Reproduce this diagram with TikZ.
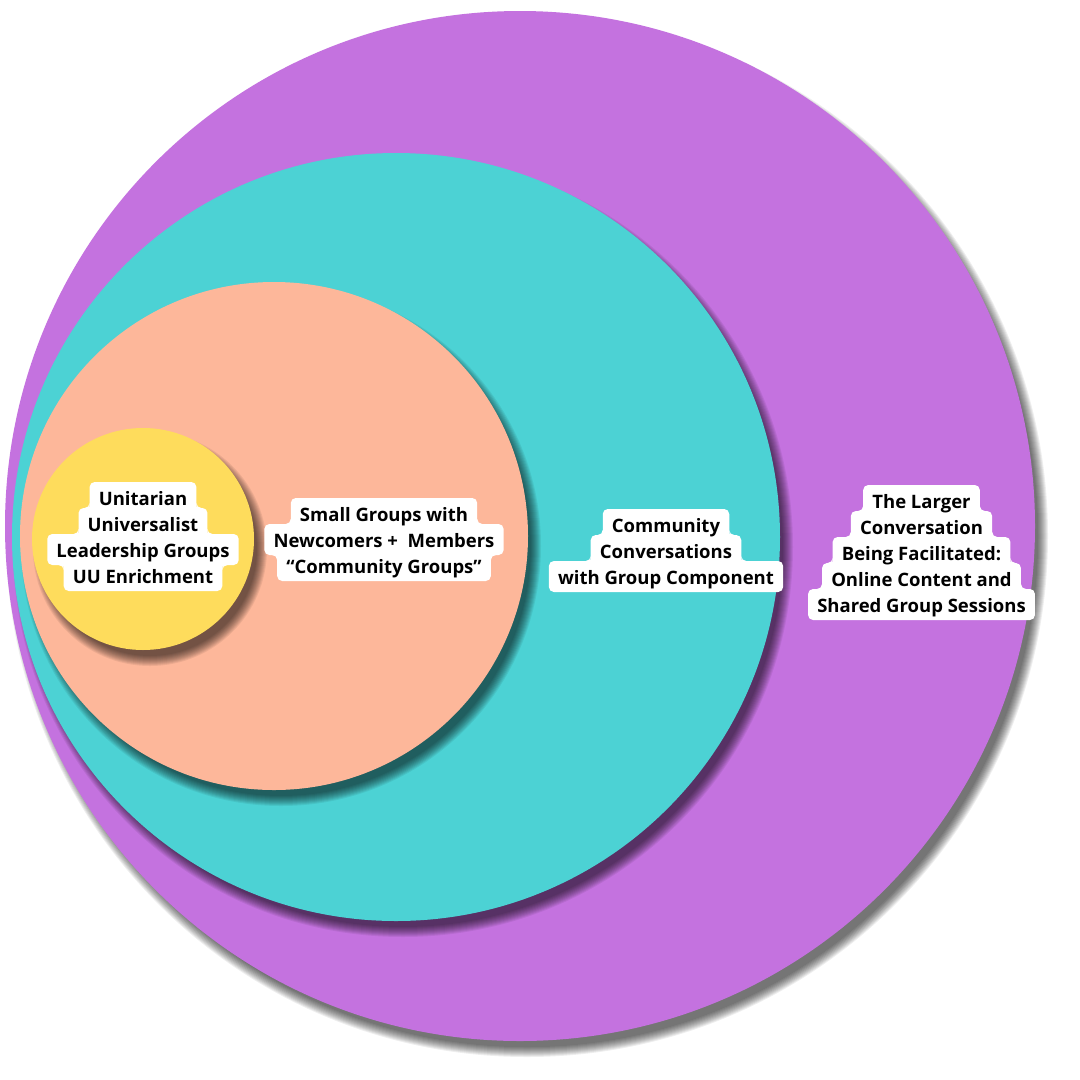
\documentclass[tikz,border=0pt]{standalone}
\usepackage{fontspec}
\setmainfont{Open Sans}
\usetikzlibrary{calc}
\pgfdeclarelayer{circ}
\pgfdeclarelayer{boxes}
\pgfsetlayers{circ,boxes,main}
\definecolor{cpurple}{HTML}{C472DF}
\definecolor{cteal}{HTML}{4CD2D4}
\definecolor{cpeach}{HTML}{FDB79A}
\definecolor{cyellow}{HTML}{FEDC5C}
\tikzset{
  ring/.style={circle, inner sep=0pt, minimum size=#1, draw=none},
  txt/.style={anchor=base, inner sep=0pt, font=\fontsize{18.5}{22}\selectfont\bfseries, text=black},
}
% soft drop shadow of a circle: centre x, centre y, radius (pixel units)
\newcommand\dropshadow[3]{%
  \foreach \k in {-4,...,6}{\fill[black,opacity=0.065] (#1+7,#2+10) circle[radius={#3+\k}];}}
% white box behind one text line
\newcommand\lbox[1]{%
  \fill[white, rounded corners=5pt] let \p1=(#1.base west), \p2=(#1.base east) in
    (\x1-9pt,\y1+23pt) rectangle (\x2+9pt,\y1-8pt);}
% upper line #1 narrower than lower line #2
\newcommand\nup[2]{%
  \fill[white] let \p1=(#1.base west), \p2=(#1.base east), \p3=(#2.base) in
    (\x1-9pt,\y1-9pt) rectangle (\x2+9pt,\y1-2pt)
    (\x1-9pt,\y3+28pt) -- (\x1-9pt,\y3+23pt) -- (\x1-14pt,\y3+23pt)
      .. controls (\x1-11.24pt,\y3+23pt) and (\x1-9pt,\y3+25.24pt) .. cycle
    (\x2+9pt,\y3+28pt) -- (\x2+9pt,\y3+23pt) -- (\x2+14pt,\y3+23pt)
      .. controls (\x2+11.24pt,\y3+23pt) and (\x2+9pt,\y3+25.24pt) .. cycle;}
% upper line #1 wider than lower line #2
\newcommand\wup[2]{%
  \fill[white] let \p1=(#2.base west), \p2=(#2.base east), \p3=(#1.base) in
    (\x1-9pt,\y1+17pt) rectangle (\x2+9pt,\y1+24pt)
    (\x1-9pt,\y3-13pt) -- (\x1-9pt,\y3-8pt) -- (\x1-14pt,\y3-8pt)
      .. controls (\x1-11.24pt,\y3-8pt) and (\x1-9pt,\y3-10.24pt) .. cycle
    (\x2+9pt,\y3-13pt) -- (\x2+9pt,\y3-8pt) -- (\x2+14pt,\y3-8pt)
      .. controls (\x2+11.24pt,\y3-8pt) and (\x2+9pt,\y3-10.24pt) .. cycle;}
\begin{document}
\begin{tikzpicture}[x=1pt, y=-1pt]
\useasboundingbox (0,0) rectangle (1080,1080);
\begin{pgfonlayer}{circ}
\fill[white] (0,0) rectangle (1080,1080);
\dropshadow{520}{526}{515}
\node[ring=1030pt, fill=cpurple] (purple) at (520,526) {};
\dropshadow{396}{537}{384}
\node[ring=768pt, fill=cteal] (teal) at (396,537) {};
\dropshadow{274}{536}{254}
\node[ring=508pt, fill=cpeach] (peach) at (274,536) {};
\dropshadow{143}{539}{111}
\node[ring=222pt, fill=cyellow] (yellow) at (143,539) {};
\end{pgfonlayer}
% yellow labels
\node[txt] (y1) at (143,505) {Unitarian};
\node[txt] (y2) at (143,531) {Universalist};
\node[txt] (y3) at (143,557) {Leadership Groups};
\node[txt] (y4) at (143,583) {UU Enrichment};
% peach labels
\node[txt] (p1) at (384,521) {Small Groups with};
\node[txt] (p2) at (384,547) {Newcomers +~ Members};
\node[txt] (p3) at (384,573) {“Community Groups”};
% teal labels
\node[txt] (t1) at (666,532) {Community};
\node[txt] (t2) at (666,558) {Conversations};
\node[txt] (t3) at (666,584) {with Group Component};
% purple labels
\node[txt] (u1) at (921.5,508) {The Larger};
\node[txt] (u2) at (921.5,534) {Conversation};
\node[txt] (u3) at (921.5,560) {Being Facilitated:};
\node[txt] (u4) at (921.5,586) {Online Content and};
\node[txt] (u5) at (921.5,612) {Shared Group Sessions};
\begin{pgfonlayer}{boxes}
\foreach \nm in {y1,y2,y3,y4,p1,p2,p3,t1,t2,t3,u1,u2,u3,u4,u5}{\lbox{\nm}}
\nup{y1}{y2}\nup{y2}{y3}\wup{y3}{y4}
\nup{p1}{p2}\wup{p2}{p3}
\nup{t1}{t2}\nup{t2}{t3}
\nup{u1}{u2}\nup{u2}{u3}\nup{u3}{u4}\nup{u4}{u5}
\end{pgfonlayer}
\end{tikzpicture}
\end{document}
